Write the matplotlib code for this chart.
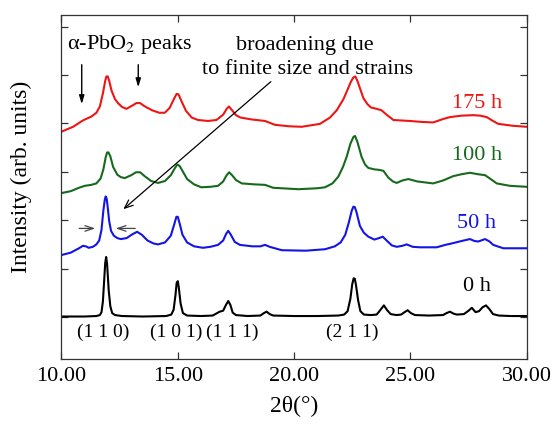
import matplotlib
matplotlib.use("Agg")
import matplotlib.pyplot as plt

plt.rcParams["font.family"] = ["Liberation Serif", "DejaVu Serif"]
plt.rcParams["mathtext.fontset"] = "stix"

# ── Data (2θ in degrees, intensity in offset units) ───────────────────────────
x_0h = [10.0, 11.0, 11.5, 11.65, 11.72, 11.78, 11.84, 11.88, 11.92, 11.96, 12.03, 12.1, 12.18,
        12.3, 12.6, 13.5, 14.5, 14.72, 14.82, 14.9, 14.95, 15.0, 15.04, 15.12, 15.22, 15.4,
        16.0, 16.5, 16.8, 16.95, 17.07, 17.17, 17.26, 17.36, 17.5, 18.0, 18.55, 18.7,
        18.82, 18.95, 19.1, 20.0, 21.0, 21.9, 22.15, 22.3, 22.42, 22.5, 22.56, 22.61, 22.66,
        22.75, 22.85, 23.0, 23.3, 23.55, 23.7, 23.86, 24.0, 24.15, 24.4, 24.6, 24.75,
        24.88, 25.02, 25.2, 25.8, 26.4, 26.55, 26.70, 26.85, 27.0, 27.3, 27.5, 27.64,
        27.8, 27.95, 28.1, 28.25, 28.4, 28.55, 28.8, 29.3, 30.0]
y_0h = [0.01, 0.01, 0.02, 0.04, 0.10, 0.32, 0.80, 1.12, 1.24, 1.10, 0.55, 0.22, 0.08,
        0.04, 0.02, 0.01, 0.02, 0.05, 0.15, 0.45, 0.70, 0.74, 0.62, 0.28, 0.08, 0.03,
        0.02, 0.03, 0.11, 0.13, 0.25, 0.33, 0.25, 0.09, 0.04, 0.02, 0.03, 0.08,
        0.11, 0.06, 0.03, 0.02, 0.02, 0.03, 0.05, 0.12, 0.38, 0.68, 0.80, 0.79, 0.66,
        0.35, 0.12, 0.05, 0.04, 0.05, 0.14, 0.24, 0.14, 0.06, 0.04, 0.05, 0.10,
        0.14, 0.08, 0.04, 0.03, 0.04, 0.08, 0.11, 0.07, 0.05, 0.06, 0.13, 0.19,
        0.10, 0.12, 0.20, 0.24, 0.16, 0.06, 0.03, 0.02, 0.02]

x_50h = [10.0, 10.4, 10.75, 10.92, 11.05, 11.17, 11.35, 11.5, 11.62, 11.72, 11.8, 11.86,
         11.9, 11.94, 11.98, 12.05, 12.13, 12.25, 12.4, 12.55, 12.8, 13.05, 13.25, 13.45, 13.7,
         13.95, 14.15, 14.45, 14.7, 14.85, 14.94, 15.0, 15.07, 15.2, 15.4, 15.7, 16.08, 16.4,
         16.73, 16.95, 17.08, 17.17, 17.28, 17.45, 17.67, 18.2, 18.55, 18.75, 18.95, 19.47,
         20.5, 21.33, 21.75, 22.0, 22.2, 22.35, 22.48, 22.55, 22.61, 22.68, 22.83, 23.0, 23.19,
         23.45, 23.65, 23.81, 24.0, 24.2, 24.41, 24.65, 24.84, 25.1, 25.41, 26.13, 26.5,
         26.78, 27.2, 27.56, 27.75, 27.92, 28.21, 28.4, 28.56, 28.99, 29.5, 30.0]
y_50h = [1.28, 1.33, 1.42, 1.47, 1.46, 1.43, 1.45, 1.50, 1.58, 1.80, 2.20, 2.42,
         2.49, 2.45, 2.30, 1.98, 1.78, 1.68, 1.63, 1.61, 1.63, 1.71, 1.76, 1.70, 1.58,
         1.52, 1.50, 1.54, 1.68, 1.92, 2.07, 2.07, 1.95, 1.70, 1.54, 1.46, 1.43, 1.45,
         1.49, 1.58, 1.72, 1.78, 1.70, 1.55, 1.49, 1.46, 1.46, 1.49, 1.45, 1.38,
         1.37, 1.40, 1.46, 1.54, 1.70, 1.95, 2.20, 2.28, 2.27, 2.17, 1.88, 1.74, 1.66,
         1.60, 1.63, 1.66, 1.57, 1.48, 1.45, 1.47, 1.50, 1.45, 1.44, 1.44, 1.49,
         1.52, 1.57, 1.61, 1.57, 1.56, 1.61, 1.56, 1.49, 1.42, 1.42, 1.42]

x_100h = [10.0, 10.4, 10.75, 11.0, 11.28, 11.5, 11.68, 11.8, 11.9, 11.96, 12.02, 12.1, 12.22,
          12.4, 12.55, 12.72, 13.0, 13.2, 13.38, 13.55, 13.85, 14.15, 14.45, 14.7, 14.88, 14.98,
          15.08, 15.2, 15.4, 15.7, 16.01, 16.4, 16.73, 16.95, 17.1, 17.21, 17.35, 17.5, 17.75,
          18.3, 18.75, 19.1, 20.18, 21.0, 21.33, 21.65, 21.9, 22.1, 22.26, 22.42, 22.55,
          22.62, 22.72, 22.9, 23.05, 23.19, 23.45, 23.65, 23.84, 24.05, 24.25, 24.41, 24.65,
          24.91, 25.3, 25.98, 26.4, 26.84, 27.2, 27.56, 27.9, 28.21, 28.45, 28.71, 29.28,
          30.0]
y_100h = [2.56, 2.60, 2.67, 2.71, 2.73, 2.76, 2.86, 3.05, 3.30, 3.40, 3.40, 3.32, 3.10,
          2.94, 2.89, 2.87, 2.93, 2.99, 2.99, 2.92, 2.81, 2.77, 2.81, 2.93, 3.08, 3.15,
          3.12, 3.02, 2.85, 2.74, 2.68, 2.69, 2.71, 2.80, 2.93, 2.99, 2.92, 2.83, 2.76,
          2.74, 2.73, 2.67, 2.64, 2.66, 2.68, 2.76, 2.90, 3.10, 3.31, 3.58, 3.72,
          3.74, 3.62, 3.31, 3.15, 3.08, 3.05, 3.04, 3.02, 2.88, 2.80, 2.77, 2.82,
          2.85, 2.80, 2.76, 2.82, 2.91, 2.95, 2.98, 2.95, 2.93, 2.85, 2.76, 2.71,
          2.69]

x_175h = [10.0, 10.5, 10.85, 11.0, 11.28, 11.5, 11.65, 11.78, 11.88, 11.93, 11.99, 12.05, 12.15,
          12.3, 12.43, 12.6, 12.79, 13.05, 13.22, 13.38, 13.55, 13.9, 14.2, 14.44, 14.65, 14.85,
          14.95, 15.03, 15.12, 15.35, 15.6, 15.87, 16.3, 16.66, 16.95, 17.1, 17.2, 17.32, 17.5,
          17.7, 18.2, 18.75, 19.18, 19.8, 20.33, 21.11, 21.54, 21.83, 22.12, 22.3, 22.45, 22.55,
          22.63, 22.72, 22.85, 22.98, 23.15, 23.3, 23.55, 23.76, 24.0, 24.27, 24.6, 24.98, 25.5,
          25.98, 26.4, 26.7, 27.2, 27.7, 28.0, 28.28, 28.55, 28.78, 29.42, 30.0]
y_175h = [3.83, 3.93, 4.04, 4.08, 4.14, 4.22, 4.35, 4.62, 4.88, 4.97, 4.97, 4.88, 4.68,
          4.50, 4.42, 4.34, 4.30, 4.37, 4.42, 4.42, 4.36, 4.27, 4.22, 4.22, 4.32, 4.52,
          4.61, 4.60, 4.50, 4.26, 4.12, 4.07, 4.05, 4.07, 4.18, 4.30, 4.35, 4.28, 4.17,
          4.12, 4.08, 4.05, 3.97, 3.94, 3.93, 3.99, 4.12, 4.27, 4.50, 4.70, 4.87, 4.95,
          4.97, 4.88, 4.70, 4.52, 4.40, 4.33, 4.30, 4.27, 4.17, 4.07, 4.06, 4.05, 4.03,
          4.02, 4.09, 4.13, 4.16, 4.17, 4.16, 4.13, 4.05, 3.99, 3.95, 3.93]

series = [
    (x_0h, y_0h, "0 h", "#000000", 0.63),
    (x_50h, y_50h, "50 h", "#1414e6", 1.94),
    (x_100h, y_100h, "100 h", "#17691c", 3.33),
    (x_175h, y_175h, "175 h", "#ee1515", 4.42),
]

hkl_labels = ["(1 1 0)", "(1 0 1)", "(1 1 1)", "(2 1 1)"]
hkl_pos = [11.8, 14.95, 17.32, 22.52]

# ── Figure ───────────────────────────────────────────────────────────────────
fig = plt.figure(figsize=(5.52, 4.28), dpi=100)
ax = fig.add_axes([0.1114, 0.1612, 0.8428, 0.8038])

for xs, ys, lab, col, ly in series:
    ax.plot(xs, ys, color=col, lw=1.5, solid_joinstyle="round")
    ax.text(27.85, ly, lab, color=col, ha="center", va="center", fontsize=16)

for lab, xp in zip(hkl_labels, hkl_pos):
    ax.text(xp, -0.32, lab, ha="center", va="center", fontsize=14)

ax.set_xlim(10, 30)
ax.set_ylim(-0.868, 6.24)
ax.set_xticks([10, 15, 20, 25, 30])
ax.set_xticklabels(["10.00", "15.00", "20.00", "25.00", "30.00"])
ax.set_yticks(range(7))
ax.set_yticklabels([])
ax.tick_params(direction="in", top=True, right=True, length=5, width=0.9,
               labelsize=16, pad=6, color="#333333")
for s in ax.spines.values():
    s.set_linewidth(0.9)
    s.set_color("#333333")

ax.set_xlabel("2θ(°)", fontsize=17, labelpad=7)
ax.set_ylabel("Intensity (arb. units)", fontsize=17)
ax.yaxis.set_label_coords(-0.063, 0.53)

# ── Annotations ─────────────────────────────────────────────────────────────
ax.text(10.22, 5.54, r"α-PbO$_2$ peaks", fontsize=16, ha="left", va="baseline")
for ax_x, y_end in [(10.87, 4.34), (13.30, 4.69)]:
    ax.annotate("", xy=(ax_x, y_end), xytext=(ax_x, 5.27),
                arrowprops=dict(arrowstyle="-|>,head_length=0.5,head_width=0.15",
                                color="black", lw=1.0))

ax.text(20.47, 5.52, "broadening due", fontsize=16, ha="center", va="baseline")
ax.text(20.6, 5.02, "to finite size and strains", fontsize=16, ha="center", va="baseline")
ax.annotate("", xy=(12.57, 2.19), xytext=(19.09, 4.90),
            arrowprops=dict(arrowstyle="->,head_length=0.6,head_width=0.25",
                            color="black", lw=0.9))

for x0, x1 in [(10.64, 11.57), (13.29, 12.21)]:
    ax.annotate("", xy=(x1, 1.83), xytext=(x0, 1.83),
                arrowprops=dict(arrowstyle="->,head_length=0.6,head_width=0.2",
                                color="#444444", lw=0.9))

fig.savefig("out.png", dpi=100)
